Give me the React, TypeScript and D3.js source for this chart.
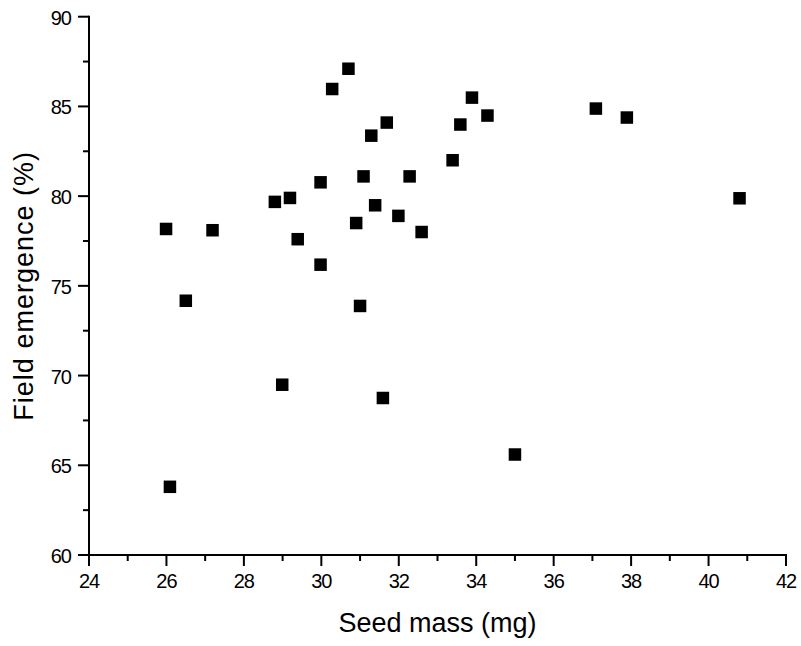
import React from "react";
import * as d3 from "d3";

const seedMass = [26.09, 25.99, 26.5, 27.19, 28.8, 29.19, 29.39, 28.99, 29.98, 29.98, 30.28, 30.7, 30.9, 31.0, 31.09, 31.29, 31.39, 31.59, 31.69, 31.99, 32.28, 32.59, 33.39, 33.59, 33.89, 34.29, 35.0, 37.09, 37.89, 40.8];
const fieldEmergence = [63.8, 78.17, 74.17, 78.1, 79.68, 79.9, 77.6, 69.49, 80.77, 76.18, 85.97, 87.1, 78.5, 73.88, 81.1, 83.37, 79.49, 68.75, 84.1, 78.9, 81.1, 78.0, 82.0, 83.99, 85.49, 84.49, 65.6, 84.88, 84.38, 79.88];
const xTicks = [24, 26, 28, 30, 32, 34, 36, 38, 40, 42];
const xMinor = [25, 27, 29, 31, 33, 35, 37, 39, 41];
const yTicks = [60, 65, 70, 75, 80, 85, 90];
const yMinor = [62.5, 67.5, 72.5, 77.5, 82.5, 87.5];

const W = 801, H = 646;
const L = 89, R = 786, T = 16.7, B = 555;

export default function App() {
  const x = d3.scaleLinear().domain([24, 42]).range([L, R]);
  const y = d3.scaleLinear().domain([60, 90]).range([B, T]);
  const font = "'Liberation Sans', Arial, sans-serif";
  const s = 12.5;
  return (
    <svg width={W} height={H} style={{ position: "absolute", left: 0, top: 0, background: "#fff" }} fontFamily={font}>
      <rect x={0} y={0} width={W} height={H} fill="#fff" />
      <line x1={L} x2={L} y1={T - 1} y2={B + 1} stroke="#000" strokeWidth={2} />
      <line x1={L - 1} x2={R + 1} y1={B} y2={B} stroke="#000" strokeWidth={2} />
      {yTicks.map((t) => (
        <g key={"y" + t}>
          <line x1={L - 11} x2={L} y1={y(t)} y2={y(t)} stroke="#000" strokeWidth={2} />
          <text x={71} y={y(t) + 8} textAnchor="end" fontSize={20} letterSpacing={-1} fill="#000">{t}</text>
        </g>
      ))}
      {yMinor.map((t) => (
        <line key={"ym" + t} x1={L - 6} x2={L} y1={y(t)} y2={y(t)} stroke="#000" strokeWidth={2} />
      ))}
      {xTicks.map((t) => (
        <g key={"x" + t}>
          <line x1={x(t)} x2={x(t)} y1={B} y2={B + 11} stroke="#000" strokeWidth={2} />
          <text x={x(t)} y={588} textAnchor="middle" fontSize={20} letterSpacing={-1} fill="#000">{t}</text>
        </g>
      ))}
      {xMinor.map((t) => (
        <line key={"xm" + t} x1={x(t)} x2={x(t)} y1={B} y2={B + 6} stroke="#000" strokeWidth={2} />
      ))}
      <text x={(L + R) / 2} y={632} textAnchor="middle" fontSize={27} fill="#000">Seed mass (mg)</text>
      <text transform={`translate(33, ${(T + B) / 2}) rotate(-90)`} textAnchor="middle" fontSize={27} letterSpacing={1} fill="#000">Field emergence (%)</text>
      {seedMass.map((m, i) => (
        <rect key={i} x={x(m) - s / 2} y={y(fieldEmergence[i]) - s / 2} width={s} height={s} fill="#000" />
      ))}
    </svg>
  );
}
